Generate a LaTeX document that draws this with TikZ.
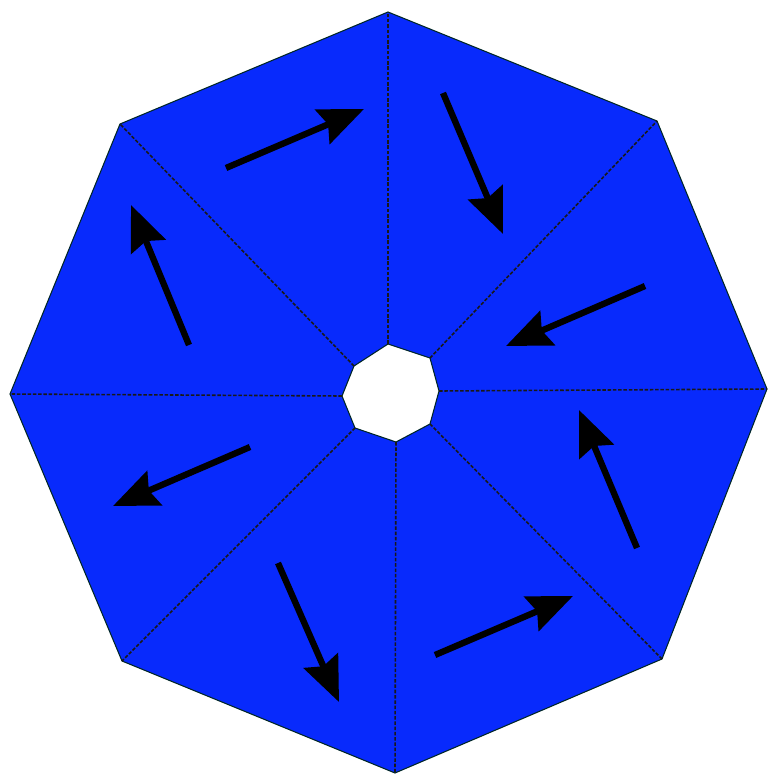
\documentclass[tikz,border=0pt]{standalone}
\usetikzlibrary{arrows.meta}
\definecolor{fillblue}{RGB}{8,42,252}
\tikzset{
  sector/.style={fill=fillblue,draw=none},
  divider/.style={draw=black!90,dash pattern=on 2pt off 1pt,line width=0.9pt},
  rim/.style={draw=black!70!teal,line width=0.6pt},
  flow/.style={draw=black,line width=3.6pt,-{Stealth[length=0.9cm,width=0.74cm,inset=0.12cm]}}
}
\begin{document}
\begin{tikzpicture}[x=0.02cm,y=-0.02cm]
\useasboundingbox (0,0) rectangle (769,777);
% outer vertices
\coordinate (o1) at (388,12);
\coordinate (o2) at (657,121);
\coordinate (o3) at (767,389);
\coordinate (o4) at (662,659);
\coordinate (o5) at (395,773);
\coordinate (o6) at (122,661);
\coordinate (o7) at (10,394);
\coordinate (o8) at (120,124);
% inner vertices
\coordinate (i1) at (388,344);
\coordinate (i2) at (430,358);
\coordinate (i3) at (439,391);
\coordinate (i4) at (430,424);
\coordinate (i5) at (396,442);
\coordinate (i6) at (355,428);
\coordinate (i7) at (342,396);
\coordinate (i8) at (354,366);
% filled ring
\path[sector,even odd rule] (o1)--(o2)--(o3)--(o4)--(o5)--(o6)--(o7)--(o8)--cycle
  (i1)--(i2)--(i3)--(i4)--(i5)--(i6)--(i7)--(i8)--cycle;
\draw[rim] (o1)--(o2)--(o3)--(o4)--(o5)--(o6)--(o7)--(o8)--cycle;
\draw[rim] (i1)--(i2)--(i3)--(i4)--(i5)--(i6)--(i7)--(i8)--cycle;
% dividers
\foreach \k in {1,...,8}{\draw[divider] (i\k)--(o\k);}
% arrows
\coordinate (a1s) at (226,168); \coordinate (a1e) at (364,109);
\coordinate (a2s) at (443,93);  \coordinate (a2e) at (503,234);
\coordinate (a3s) at (645,286); \coordinate (a3e) at (506,346);
\coordinate (a4s) at (637,548); \coordinate (a4e) at (579,410);
\coordinate (a5s) at (435,655); \coordinate (a5e) at (573,596);
\coordinate (a6s) at (278,563); \coordinate (a6e) at (339,702);
\coordinate (a7s) at (250,447); \coordinate (a7e) at (113,506);
\coordinate (a8s) at (189,345); \coordinate (a8e) at (131,205);
\foreach \k in {1,...,8}{\draw[flow] (a\k s)--(a\k e);}
\end{tikzpicture}
\end{document}
